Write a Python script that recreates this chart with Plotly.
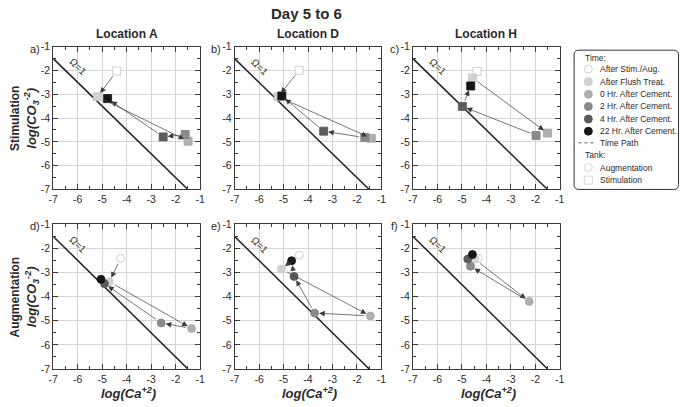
import plotly.graph_objects as go

W, H = 685, 407

# ---------------- data ----------------
time_labels = ["After Stim./Aug.", "After Flush Treat.", "0 Hr. After Cement.",
               "2 Hr. After Cement.", "4 Hr. After Cement.", "22 Hr. After Cement."]
time_colors = ["#ffffff", "#d2d2d2", "#b0b0b0", "#8a8a8a", "#5c5c5c", "#161616"]
time_edges = ["#c4c4c4", "#c6c6c6", "#a6a6a6", "#808080", "#545454", "#111111"]

locations = ["Location A", "Location D", "Location H"]
tanks = ["Stimulation", "Augmentation"]
panel_letters = ["a)", "b)", "c)", "d)", "e)", "f)"]

# log(Ca+2) and log(CO3-2) for each time step, per tank / location
stim_A_ca = [-4.41, -5.19, -1.49, -1.61, -2.51, -4.78]
stim_A_co3 = [-2.02, -3.10, -4.97, -4.69, -4.79, -3.18]
stim_D_ca = [-4.36, -5.22, -1.41, -1.68, -3.36, -5.07]
stim_D_co3 = [-1.99, -3.10, -4.85, -4.82, -4.55, -3.07]
stim_H_ca = [-4.38, -4.57, -1.50, -1.97, -4.98, -4.64]
stim_H_co3 = [-2.04, -2.31, -4.63, -4.73, -3.51, -2.65]
aug_A_ca = [-4.25, -4.71, -1.35, -2.59, -4.91, -5.05]
aug_A_co3 = [-2.41, -3.38, -5.32, -5.09, -3.46, -3.28]
aug_D_ca = [-4.36, -5.09, -1.45, -3.73, -4.57, -4.67]
aug_D_co3 = [-2.28, -2.85, -4.80, -4.68, -3.16, -2.51]
aug_H_ca = [-4.34, -4.48, -2.25, -4.65, -4.76, -4.57]
aug_H_co3 = [-2.41, -2.44, -4.20, -2.74, -2.44, -2.25]

# saturation line Omega = 1
omega_ca = [-7, -1.5]
omega_co3 = [-1.5, -7]

tick_vals = [-7, -6, -5, -4, -3, -2, -1]
tick_text = ["-7", "-6", "-5", "-4", "-3", "-2", "-1"]

panels = [
    (stim_A_ca, stim_A_co3, "square"),
    (stim_D_ca, stim_D_co3, "square"),
    (stim_H_ca, stim_H_co3, "square"),
    (aug_A_ca, aug_A_co3, "circle"),
    (aug_D_ca, aug_D_co3, "circle"),
    (aug_H_ca, aug_H_co3, "circle"),
]

# ---------------- layout geometry (pixels) ----------------
col_px = [(49, 198), (233, 382), (414, 563)]
row_px = [(42, 189), (225, 374)]
FONT = "Liberation Sans, Arial, sans-serif"
TXT = "#2a2a2a"


def px2x(p):
    return p / W


def px2y(p):
    return 1 - p / H


def note(x, y, text, size, **kw):
    d = dict(x=x, y=y, xref="paper", yref="paper", text=text, showarrow=False,
             xanchor="center", yanchor="middle",
             font=dict(size=size, color=TXT, family=FONT))
    d.update(kw)
    return d


fig = go.Figure()
layout = dict(
    width=W, height=H, margin=dict(l=0, r=0, t=0, b=0),
    paper_bgcolor="white", plot_bgcolor="white", showlegend=False,
    font=dict(family=FONT, color=TXT),
)
annotations = []
shapes = []

for i, (xs, ys, sym) in enumerate(panels):
    r, c = divmod(i, 3)
    n = i + 1
    xa = "xaxis" if n == 1 else f"xaxis{n}"
    ya = "yaxis" if n == 1 else f"yaxis{n}"
    xr = "x" if n == 1 else f"x{n}"
    yr = "y" if n == 1 else f"y{n}"
    common = dict(
        range=[-7, -1], tickmode="array", tickvals=tick_vals, ticktext=tick_text,
        showgrid=True, gridcolor="#d4d4d4", gridwidth=1, zeroline=False,
        showline=True, linecolor="#3a3a3a", linewidth=1, mirror="allticks",
        ticks="inside", ticklen=5, tickwidth=1, tickcolor="#3a3a3a",
        minor=dict(ticks="inside", dtick=0.5, ticklen=3, tickcolor="#3a3a3a", showgrid=False),
        tickfont=dict(size=10.5, color=TXT, family=FONT), fixedrange=True,
    )
    layout[xa] = dict(common, domain=[px2x(col_px[c][0]), px2x(col_px[c][1])], anchor=yr)
    layout[ya] = dict(common, domain=[px2y(row_px[r][1]), px2y(row_px[r][0])], anchor=xr)

    # Omega = 1 line
    fig.add_trace(go.Scatter(x=omega_ca, y=omega_co3, mode="lines", xaxis=xr, yaxis=yr,
                             line=dict(color="#1e1e1e", width=1.5), hoverinfo="skip"))
    # markers
    fig.add_trace(go.Scatter(x=xs, y=ys, mode="markers", xaxis=xr, yaxis=yr,
                             marker=dict(symbol=sym, size=8, color=time_colors,
                                         line=dict(color=time_edges, width=0.8)),
                             hoverinfo="skip"))
    # time path arrows
    for k in range(len(xs) - 1):
        annotations.append(dict(
            x=xs[k + 1], y=ys[k + 1], ax=xs[k], ay=ys[k], xref=xr, yref=yr,
            axref=xr, ayref=yr, text="", showarrow=True, arrowhead=2, arrowsize=1.6,
            arrowwidth=0.7, arrowcolor="#3c3c3c", standoff=4.5, startstandoff=4.5))
    # Omega label
    annotations.append(dict(x=-6.0, y=-1.85, xref=xr, yref=yr, text="\u03a9=1",
                            showarrow=False, textangle=45, xanchor="center", yanchor="middle",
                            font=dict(size=10, color=TXT, family=FONT)))
    # panel letter
    annotations.append(note(px2x(col_px[c][0] - 19), px2y(row_px[r][0] + 2),
                            panel_letters[i], 11))

# column titles and x-axis titles
for c, name in enumerate(locations):
    xc = (col_px[c][0] + col_px[c][1]) / 2
    annotations.append(note(px2x(xc), px2y(29), f"<b>{name}</b>", 12))
    annotations.append(note(px2x(xc + 2), px2y(399),
                            "<b><i>log(Ca<sup>+2</sup>)</i></b>", 13))

# row titles
for r, name in enumerate(tanks):
    yc = px2y((row_px[r][0] + row_px[r][1]) / 2)
    annotations.append(note(px2x(10), yc, f"<b>{name}</b>", 12, textangle=-90))
    annotations.append(note(px2x(27), yc, "<b><i>log(CO<sub>3</sub><sup>-2</sup>)</i></b>",
                            13, textangle=-90))

# main title
annotations.append(note(px2x(306), px2y(8), "<b>Day 5 to 6</b>", 15))

# ---------------- custom legend ----------------
LX0, LX1, LY0, LY1 = 570, 685, 40, 195
layout["xaxis7"] = dict(domain=[px2x(LX0), px2x(LX1)], range=[LX0, LX1], visible=False,
                        fixedrange=True, anchor="y7")
layout["yaxis7"] = dict(domain=[px2y(LY1), px2y(LY0)], range=[LY1, LY0], visible=False,
                        fixedrange=True, anchor="x7")

bx0, bx1, by0, by1, rad = 577.5, 683.5, 45.5, 189, 5
path = (f"M {bx0 + rad},{by0} L {bx1 - rad},{by0} Q {bx1},{by0} {bx1},{by0 + rad} "
        f"L {bx1},{by1 - rad} Q {bx1},{by1} {bx1 - rad},{by1} L {bx0 + rad},{by1} "
        f"Q {bx0},{by1} {bx0},{by1 - rad} L {bx0},{by0 + rad} Q {bx0},{by0} {bx0 + rad},{by0} Z")
shapes.append(dict(type="path", path=path, xref="x7", yref="y7",
                   line=dict(color="#333333", width=1), fillcolor="white", layer="below"))

item_y = [65, 78, 91, 103.5, 116.5, 129]
fig.add_trace(go.Scatter(x=[592] * len(item_y), y=item_y, mode="markers", xaxis="x7",
                         yaxis="y7", hoverinfo="skip",
                         marker=dict(symbol="circle", size=8, color=time_colors,
                                     line=dict(color=time_edges, width=0.8))))
fig.add_trace(go.Scatter(x=[582, 598], y=[141, 141], mode="lines", xaxis="x7", yaxis="y7",
                         hoverinfo="skip", line=dict(color="#333333", width=0.8, dash="dot")))
fig.add_trace(go.Scatter(x=[592, 592], y=[166.5, 179.5], mode="markers", xaxis="x7",
                         yaxis="y7", hoverinfo="skip",
                         marker=dict(symbol=["circle", "square"], size=8, color="white",
                                     line=dict(color="#d0d0d0", width=0.8))))

leg_font = dict(size=8.5, color=TXT, family=FONT)


def leg(x, y, text):
    return dict(x=x, y=y, xref="x7", yref="y7", text=text, showarrow=False,
                xanchor="left", yanchor="middle", font=leg_font)


annotations.append(leg(587, 54, "Time:"))
for yy, lab in zip(item_y, time_labels):
    annotations.append(leg(602, yy, lab))
annotations.append(leg(602, 141, "Time Path"))
annotations.append(leg(587, 154, "Tank:"))
annotations.append(leg(602, 166.5, "Augmentation"))
annotations.append(leg(602, 179.5, "Stimulation"))

layout["annotations"] = annotations
layout["shapes"] = shapes
fig.update_layout(**layout)
fig.write_html("out.html", config={"displayModeBar": False},
               post_script="document.body.style.margin='0';")
